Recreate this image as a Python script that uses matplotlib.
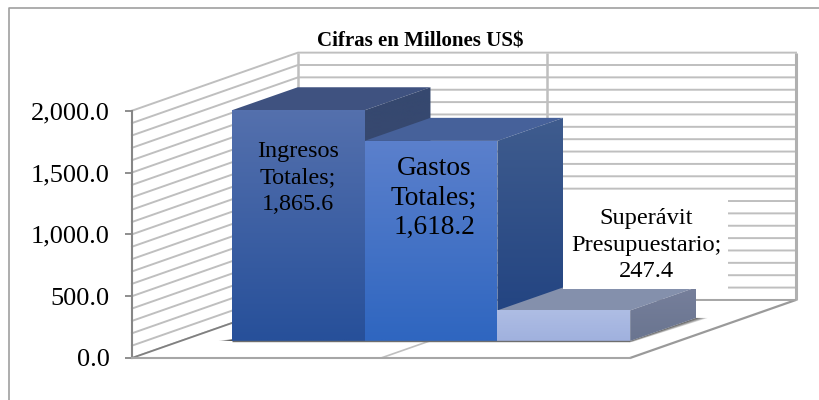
import numpy as np
import matplotlib
matplotlib.use("Agg")
import matplotlib.pyplot as plt
from matplotlib.patches import Polygon
from matplotlib.lines import Line2D

plt.rcParams['font.family'] = ['Liberation Serif', 'DejaVu Serif']

# valores de la grafica
series = ["Ingresos\nTotales;\n1,865.6", "Gastos\nTotales;\n1,618.2", "Superávit\nPresupuestario;\n247.4"]
values = [1865.6, 1618.2, 247.4]
yticks = [0, 500, 1000, 1500, 2000]
ytick_labels = ["0.0", "500.0", "1,000.0", "1,500.0", "2,000.0"]
minor_ticks = list(range(0, 2001, 100))
title = "Cifras en Millones US$"

# colores: frente arriba/abajo, tapa, lado arriba/abajo
front_top = ["#5470AD", "#5B80CC", "#AEBDE4"]
front_bot = ["#27509A", "#2F66C0", "#A0B1DE"]
top_col = ["#3F5280", "#46619A", "#8490AC"]
side_top = ["#36486F", "#3F5C8E", "#767F9B"]
side_bot = ["#36486F", "#1F4180", "#6A7590"]

# etiquetas: posicion en pixeles de la imagen y tamano
label_px = [(298, 178), (434, 198), (646, 245)]
label_size = [17.4, 19.7, 17.6]
label_ls = [1.32, 1.25, 1.32]

W, H = 820, 400
fig = plt.figure(figsize=(W / 100, H / 100), dpi=100)

# el eje va de x=132 a 630 px, y de 358 a 110.7 px
ax = fig.add_axes([132 / W, 1 - 358 / H, 498 / W, (358 - 110.7) / H])
ax.set_facecolor("none")

# profundidad: 1 unidad = 1 categoria en x y 469.6 unidades en y
DY = 469.6
BAR_D0, BAR_D1 = 0.293, 0.69
BAR_START = 0.308


def proj(x, y, d=0):
    return (x + d, y + d * DY)


def px(x, y):
    # pixel de la imagen a coordenadas del eje
    return ((x - 132) / 166, (358 - y) / 0.12365)


def poly(pts, **kw):
    p = Polygon(pts, closed=True, clip_on=False, **kw)
    ax.add_patch(p)
    return p


def seg(a, b, **kw):
    ax.plot([a[0], b[0]], [a[1], b[1]], clip_on=False, solid_capstyle="butt", **kw)


def gradient(pts, c1, c2, z):
    # degradado vertical recortado al poligono
    xs = [p[0] for p in pts]
    ys = [p[1] for p in pts]
    c1 = np.array(matplotlib.colors.to_rgb(c1))
    c2 = np.array(matplotlib.colors.to_rgb(c2))
    t = np.linspace(0, 1, 64)[:, None, None]
    img = (1 - t) * c1 + t * c2
    im = ax.imshow(img, extent=(min(xs), max(xs), min(ys), max(ys)), origin="upper",
                   aspect="auto", zorder=z, interpolation="bilinear")
    clip = Polygon(pts, closed=True, transform=ax.transData, fill=False, edgecolor="none")
    ax.add_patch(clip)
    # sin esto la imagen se corta en el borde del eje
    im.set_clip_box(fig.bbox)
    im.set_clip_path(clip)


grid = "#BFBFBF"
for v in minor_ticks:
    # pared lateral y pared de fondo
    a, b, c = proj(0, v), proj(0, v, 1), proj(3, v, 1)
    ax.plot([a[0], b[0], c[0]], [a[1], b[1], c[1]], color=grid, lw=1.4, clip_on=False, zorder=1)

# verticales de fondo
for x in [0, 1.5]:
    seg(proj(x, 0, 1), proj(x, 2000, 1), color=grid, lw=1.8, zorder=1)
seg(proj(3, 0, 1), proj(3, 2000, 1), color="#B0B0B0", lw=2.2, zorder=1)

# piso
poly([proj(0, 0), proj(3, 0), proj(3, 0, 1), proj(0, 0, 1)], facecolor="white", edgecolor="none", zorder=1.5)
seg(proj(3, 0), proj(3, 0, 1), color="#9A9A9A", lw=1.6, zorder=2)
seg(proj(0, 0), proj(0, 0, 1), color="#808080", lw=1.3, zorder=2)
seg(proj(1.5, 0), proj(1.5, 0, 1), color="#BFBFBF", lw=1.2, zorder=2)
seg(proj(0, 0, 1), proj(3, 0, 1), color="#A6A6A6", lw=1.4, zorder=2)

# sombras sobre el piso
x_left = BAR_START
x_right = BAR_START + 0.8 * len(values)
for k in range(1, 6):
    s = k / 5
    poly([proj(x_left, 0, BAR_D0), proj(x_left - 0.08 * s, 0, BAR_D0), proj(x_left, 0, BAR_D0 + 0.06)],
         facecolor="black", alpha=0.22, edgecolor="none", zorder=2.5)
    poly([proj(x_right, 0, BAR_D0), proj(x_right, 0, BAR_D1), proj(x_right + 0.07 * s, 0, BAR_D1),
          proj(x_right + 0.03 * s, 0, BAR_D0 - 0.02)],
         facecolor="black", alpha=0.16, edgecolor="none", zorder=2.5)

# barras, la siguiente tapa el lado de la anterior
for i, v in enumerate(values):
    x0 = BAR_START + 0.8 * i
    x1 = x0 + 0.8
    z = 5 + i
    front = [proj(x0, 0, BAR_D0), proj(x1, 0, BAR_D0), proj(x1, v, BAR_D0), proj(x0, v, BAR_D0)]
    top = [proj(x0, v, BAR_D0), proj(x1, v, BAR_D0), proj(x1, v, BAR_D1), proj(x0, v, BAR_D1)]
    side = [proj(x1, 0, BAR_D0), proj(x1, 0, BAR_D1), proj(x1, v, BAR_D1), proj(x1, v, BAR_D0)]
    poly(top, facecolor=top_col[i], edgecolor="none", zorder=z)
    gradient(side, side_top[i], side_bot[i], z)
    gradient(front, front_top[i], front_bot[i], z + 0.1)

seg(proj(x_left, 0, BAR_D0), proj(x_right, 0, BAR_D0), color="#6E6E6E", lw=1.0, zorder=9)

# ejes
ax.set_xlim(0, 3)
ax.set_ylim(0, 2000)
ax.set_xticks([])
ax.set_yticks(yticks)
ax.set_yticklabels(ytick_labels, fontsize=19)
ax.tick_params(axis="y", length=5, width=1.3, color="#868686", pad=11)
for s in ["top", "right"]:
    ax.spines[s].set_visible(False)
ax.spines["left"].set_color("#868686")
ax.spines["left"].set_linewidth(1.5)
ax.spines["bottom"].set_color("#A6A6A6")
ax.spines["bottom"].set_linewidth(1.5)

# caja blanca de la tercera etiqueta
bx0, by0 = px(563, 289)
bx1, by1 = px(728, 192)
poly([(bx0, by0), (bx1, by0), (bx1, by1), (bx0, by1)], facecolor="white", edgecolor="none", zorder=10)

# etiquetas
for i, txt in enumerate(series):
    lx, ly = px(*label_px[i])
    ax.text(lx, ly, txt, ha="center", va="center", fontsize=label_size[i],
            linespacing=label_ls[i], zorder=11, clip_on=False)

fig.text(420 / W, 1 - 41 / H, title, ha="center", va="center", fontsize=15.1, fontweight="bold")

# marco: solo arriba e izquierda
fig.add_artist(Line2D([9 / W, 9 / W, 1], [0, 1 - 8 / H, 1 - 8 / H],
                      transform=fig.transFigure, color="#A0A0A0", lw=1.2))

fig.savefig("out.png", dpi=100)
